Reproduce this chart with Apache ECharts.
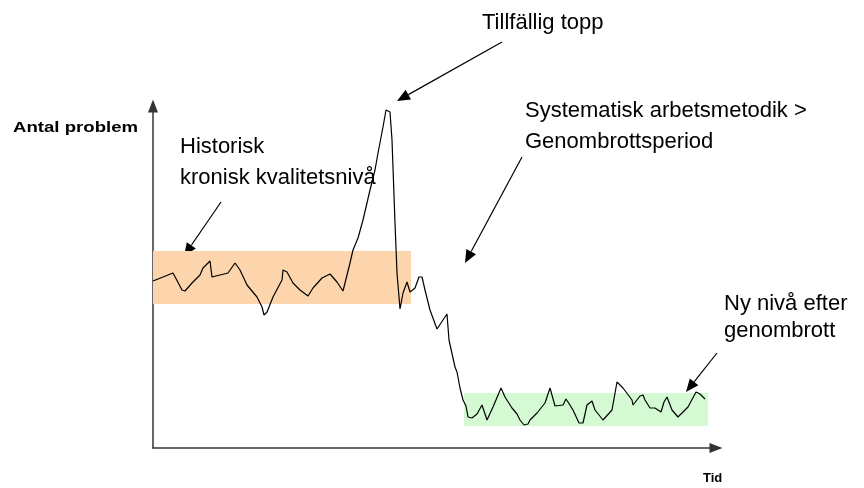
<!DOCTYPE html>
<html><head><meta charset="utf-8">
<script src="https://cdn.jsdelivr.net/npm/echarts@6/dist/echarts.min.js"></script>
<style>html,body{margin:0;padding:0;background:#fff}#c{width:864px;height:488px}</style>
</head><body><div id="c"></div>
<script>
// Time index (x) and number of problems (y)
const tid = [0,20,29,32,39,47,50,57,59,67,75,82,87,94,104,109,111,114,120,129,130,134,140,147,155,160,169,177,184,190,197,200,205,210,217,222,225,230,233,235,237,239,242,244,247,250,254,257,262,266,269,272,277,284,294,296,302,304,307,310,313,315,319,324,329,334,340,348,352,359,364,367,371,375,377,384,392,397,402,410,413,415,420,426,430,434,439,442,450,459,464,470,479,480,487,490,492,497,502,505,508,511,514,519,525,535,543,547,552];
const antalProblem = [167,175,158,157,165,173,180,187,171,173,175,185,178,163,151,141,133,136,151,168,178,176,165,158,152,160,170,174,166,157,185,198,210,228,258,278,295,321,338,340,336,308,225,175,139,155,166,156,160,171,171,158,138,119,134,108,81,76,60,48,42,31,30,34,43,28,41,60,51,40,34,28,23,24,28,35,45,60,42,43,49,46,38,25,25,43,47,38,28,38,66,60,48,43,52,53,48,40,40,38,36,46,51,38,31,41,56,54,49];
// Bands: historic chronic level and new level after breakthrough
const historiskTid = [0, 258];
const historiskNiva = [144, 197];
const nyTid = [311, 555];
const nyNiva = [22, 55];
// Annotation texts
const txtTopp = ['Tillfällig topp'];
const txtSystematisk = ['Systematisk arbetsmetodik >', 'Genombrottsperiod'];
const txtHistorisk = ['Historisk', 'kronisk kvalitetsnivå'];
const txtNy = ['Ny nivå efter', 'genombrott'];
const yName = 'Antal problem';
const xName = 'Tid';

const chart = echarts.init(document.getElementById('c'), null, {renderer: 'canvas'});
const FONT = 'Liberation Sans, Arial, sans-serif';

function textLines(lines, x, y0, step, size, weight, sx) {
  return lines.map((t, i) => ({
    type: 'text', x: x, y: y0 + i * step, scaleX: sx || 1,
    style: {text: t, fontSize: size, fontFamily: FONT, fontWeight: weight || 'normal', fill: '#000'}
  }));
}
function arrow(x1, y1, x2, y2) {
  const L = 13, W = 5.5;
  const dx = x2 - x1, dy = y2 - y1, d = Math.hypot(dx, dy);
  const ux = dx / d, uy = dy / d;
  const bx = x2 - ux * L, by = y2 - uy * L;
  return [
    {type: 'line', shape: {x1: x1, y1: y1, x2: bx, y2: by}, style: {stroke: '#000', lineWidth: 1.2}},
    {type: 'polygon', shape: {points: [[x2, y2], [bx - uy * W, by + ux * W], [bx + uy * W, by - ux * W]]}, style: {fill: '#000'}}
  ];
}

const graphics = [].concat(
  textLines(txtTopp, 482, 12, 28, 22),
  textLines(txtSystematisk, 525, 100, 31, 22),
  textLines(txtHistorisk, 180, 136, 31, 22),
  textLines(txtNy, 724, 293, 27, 22),
  textLines([yName], 13, 120, 0, 15, 'bold', 1.24),
  textLines([xName], 703, 472, 0, 13, 'bold'),
  arrow(221, 202, 184, 256),
  arrow(502, 42, 397, 101),
  arrow(522, 157, 465, 263),
  arrow(717, 353, 686, 392)
);

chart.setOption({
  animation: false,
  backgroundColor: '#fff',
  grid: {left: 153, right: 148, top: 106, bottom: 40},
  xAxis: {
    type: 'value', min: 0, max: 563,
    axisLine: {show: true, symbol: ['none', 'triangle'], symbolSize: [10, 13], lineStyle: {color: '#333', width: 1.5}},
    axisTick: {show: false}, axisLabel: {show: false}, splitLine: {show: false}
  },
  yAxis: {
    type: 'value', min: 0, max: 342,
    axisLine: {show: true, symbol: ['none', 'triangle'], symbolSize: [10, 13], lineStyle: {color: '#333', width: 1.5}},
    axisTick: {show: false}, axisLabel: {show: false}, splitLine: {show: false}
  },
  series: [{
    type: 'line',
    data: tid.map((t, i) => [t, antalProblem[i]]),
    showSymbol: false, symbol: 'none',
    lineStyle: {color: '#000', width: 1.2},
    z: 5,
    markArea: {
      silent: true,
      data: [
        [{coord: [historiskTid[0], historiskNiva[0]], itemStyle: {color: '#fcd5ac', opacity: 1}}, {coord: [historiskTid[1], historiskNiva[1]]}],
        [{coord: [nyTid[0], nyNiva[0]], itemStyle: {color: '#d3fad3', opacity: 1}}, {coord: [nyTid[1], nyNiva[1]]}]
      ]
    }
  }],
  graphic: graphics
});
</script></body></html>
